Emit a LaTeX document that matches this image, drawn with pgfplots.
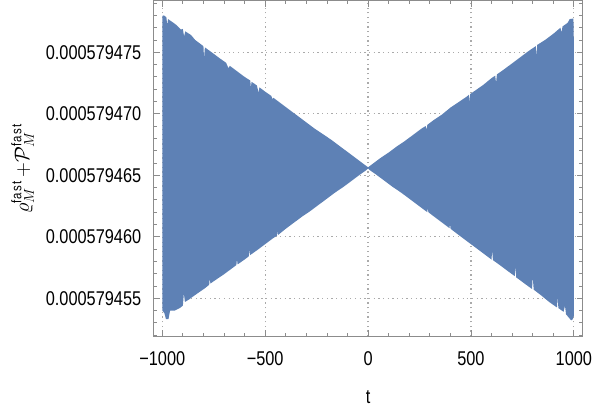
\documentclass[border=0pt]{standalone}
\usepackage{fontspec}
\setmainfont{Liberation Sans}[FakeStretch=0.82]
\usepackage{pgfplots}
\pgfplotsset{compat=1.18}
\usepgfplotslibrary{fillbetween}

\definecolor{mmablue}{RGB}{94,129,181}
\definecolor{framegray}{RGB}{140,140,140}
\definecolor{gridgray}{RGB}{170,170,170}

% y values are offsets from 0.000579465, in units of 1e-12
\begin{document}
\begin{tikzpicture}[x=1bp,y=1bp]
\path (0,0) rectangle (592,412);
\begin{axis}[
    at={(154.3bp,74.3bp)}, anchor=south west,
    scale only axis,
    width=430.7bp, height=337.2bp,
    xmin=-1042, xmax=1042,
    ymin=-13.1, ymax=14.2,
    xtick={-1000,-500,0,500,1000},
    xticklabels={−1000,−500,0,500,1000},
    minor xtick={-900,-800,...,900},
    ytick={-10,-5,0,5,10},
    yticklabels={0.000579455,0.000579460,0.000579465,0.000579470,0.000579475},
    minor ytick={-13,-12,...,14},
    tick align=inside,
    major tick length=6bp,
    minor tick length=3.5bp,
    axis line style={framegray, line width=0.8bp},
    every tick/.style={framegray, line width=0.8bp},
    grid=major,
    major grid style={gridgray, line width=1.3bp, dash pattern=on 1.3bp off 3.4bp},
    ticklabel style={font=\fontsize{20bp}{24bp}\selectfont, inner sep=0pt},
    xticklabel style={yshift=-15bp},
    yticklabel style={xshift=-12.3bp},
    xlabel={t},
    ylabel={$\varrho_M^{\mathrm{fast}}\,{+}\mathcal{P}_M^{\mathrm{fast}}$},
    label style={font=\fontsize{20bp}{24bp}\selectfont, inner sep=0pt},
    xlabel style={at={(axis description cs:0.5,0)}, anchor=north, yshift=-54bp},
    ylabel style={at={(axis description cs:0,0.5)}, anchor=south, yshift=120bp},
]
\addplot[name path=upper, draw=none] coordinates {
(-1000,12.95)(-992,13.0)(-980,12.85)(-976,12.2)(-972,12.7)(-950,12.45)(-930,12.2)
(-910,11.85)(-900,11.9)(-894,11.3)(-888,11.7)(-860,11.4)(-840,11.0)(-820,10.75)
(-800,10.5)(-797,9.5)(-793,10.4)(-760,10.0)(-720,9.5)(-690,9.15)(-678,8.7)(-672,8.9)
(-640,8.5)(-600,8.0)(-572,7.7)(-570,7.1)(-566,7.6)(-540,7.3)(-532,6.7)(-528,7.15)
(-500,6.8)(-470,6.45)(-465,6.2)(-460,6.3)(-420,5.8)(-380,5.3)(-340,4.8)(-300,4.3)
(-260,3.8)(-220,3.35)(-180,2.9)(-140,2.4)(-100,1.9)(-60,1.4)(-20,0.9)(0,0.65)
(20,0.9)(60,1.4)(100,1.85)(140,2.35)(180,2.8)(220,3.3)(260,3.8)(280,4.0)(284,3.7)
(288,4.1)(320,4.5)(360,4.95)(400,5.5)(440,5.95)(480,6.4)(490,6.55)(492,5.9)(496,6.6)
(530,7.0)(560,7.35)(600,7.9)(618,8.1)(622,7.5)(626,8.2)(660,8.6)(700,9.1)(740,9.6)
(780,10.1)(815,10.5)(818,9.7)(822,10.6)(860,11.0)(900,11.5)(935,12.0)(940,11.6)
(945,12.1)(970,12.4)(980,12.7)(998,12.75)(1000,10.8)
};
\addplot[name path=lower, draw=none] coordinates {
(-1000,-11.0)(-990,-11.2)(-982,-11.7)(-970,-11.7)(-962,-11.0)(-940,-11.0)(-915,-10.8)
(-900,-10.6)(-895,-9.6)(-890,-10.3)(-870,-10.1)(-850,-9.85)(-820,-9.5)(-790,-9.15)
(-772,-8.9)(-770,-8.4)(-766,-8.8)(-740,-8.5)(-700,-8.05)(-660,-7.55)(-640,-7.3)
(-637,-6.8)(-634,-7.25)(-600,-6.85)(-580,-6.6)(-577,-6.0)(-574,-6.5)(-540,-6.1)
(-500,-5.6)(-460,-5.1)(-442,-4.9)(-440,-4.5)(-437,-4.85)(-400,-4.35)(-360,-3.85)
(-320,-3.35)(-280,-2.9)(-240,-2.4)(-200,-1.9)(-160,-1.4)(-120,-0.95)(-80,-0.45)
(-40,0.05)(-10,0.4)(0,0.55)
(10,0.4)(40,0.05)(80,-0.45)(120,-0.95)(160,-1.4)(200,-1.9)(240,-2.4)(288,-3.0)
(290,-2.6)(293,-3.0)(320,-3.35)(360,-3.85)(396,-4.3)(398,-3.9)(401,-4.35)(440,-4.85)
(480,-5.35)(520,-5.85)(560,-6.35)(600,-6.85)(603,-6.1)(607,-6.9)(640,-7.3)(680,-7.8)
(713,-8.2)(716,-7.4)(720,-8.3)(760,-8.8)(797,-9.25)(800,-8.2)(805,-9.3)(840,-9.75)
(880,-10.3)(918,-10.75)(921,-9.9)(925,-10.8)(950,-11.1)(957,-10.6)(962,-11.3)
(987,-11.8)(995,-11.7)(1000,-11.4)
};
\addplot[mmablue, draw=none] fill between[of=upper and lower];
\end{axis}
\end{tikzpicture}
\end{document}
